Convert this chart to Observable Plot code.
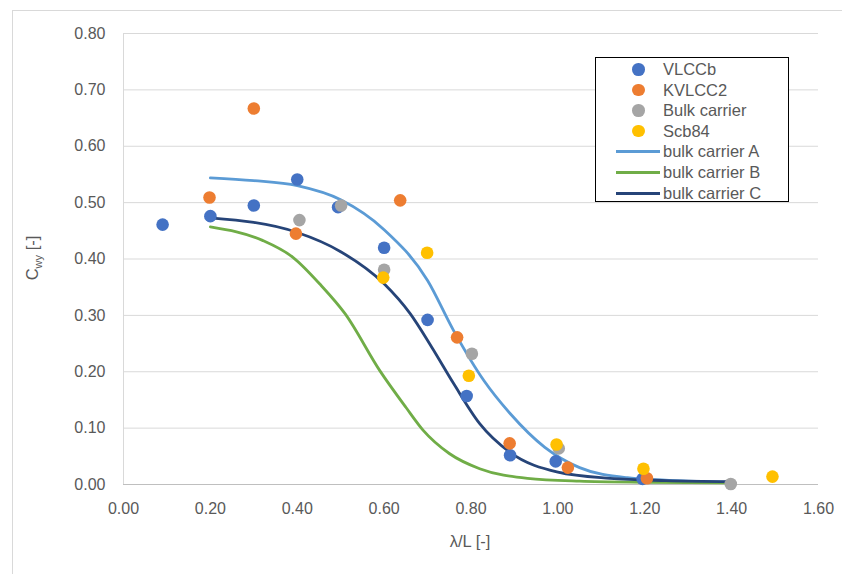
<!DOCTYPE html>
<html>
<head>
<meta charset="utf-8">
<script src="https://cdn.jsdelivr.net/npm/d3@7"></script>
<script src="https://cdn.jsdelivr.net/npm/@observablehq/plot@0.6"></script>
<style>
  html, body { margin: 0; padding: 0; background: #fff; overflow: hidden; }
  #wrap { position: relative; width: 842px; height: 574px; overflow: hidden; font-family: "Liberation Sans", Arial, sans-serif; }
  #frame { position: absolute; left: 12px; top: 10px; width: 900px; height: 700px; border: 1px solid #d9d9d9; box-sizing: border-box; pointer-events: none; }
  #legend { position: absolute; left: 595px; top: 57px; width: 194px; height: 145px; border: 1.5px solid #000; box-sizing: border-box; background: #fff; padding-top: 1px; }
  .row { position: relative; height: 20.6px; line-height: 20.6px; font-size: 16.5px; color: #595959; white-space: nowrap; }
  .row .dot { position: absolute; left: 36px; top: 4px; width: 12.6px; height: 12.6px; border-radius: 50%; }
  .row .ln { position: absolute; left: 20px; top: 9px; width: 44px; height: 3px; }
  .row .lab { position: absolute; left: 67px; top: 0; }
</style>
</head>
<body>
<div id="wrap"><div id="frame"></div></div>
<script>
// ---- data ----
const xTicks = [0, 0.2, 0.4, 0.6, 0.8, 1.0, 1.2, 1.4, 1.6];
const yTicks = [0, 0.1, 0.2, 0.3, 0.4, 0.5, 0.6, 0.7, 0.8];

const vlccbX = [0.09, 0.20, 0.30, 0.40, 0.494, 0.60, 0.70, 0.79, 0.89, 0.995, 1.195];
const vlccbY = [0.461, 0.476, 0.495, 0.541, 0.492, 0.420, 0.292, 0.157, 0.052, 0.041, 0.010];

const kvlccX = [0.198, 0.30, 0.397, 0.637, 0.768, 0.889, 1.023, 1.205];
const kvlccY = [0.509, 0.667, 0.445, 0.504, 0.261, 0.073, 0.030, 0.011];

const bulkX = [0.405, 0.501, 0.60, 0.802, 1.002, 1.398];
const bulkY = [0.469, 0.495, 0.381, 0.232, 0.064, 0.001];

const scbX = [0.598, 0.699, 0.795, 0.997, 1.197, 1.494];
const scbY = [0.367, 0.411, 0.193, 0.071, 0.028, 0.014];

const curveAX = [0.2, 0.3, 0.4, 0.5, 0.6, 0.7, 0.76, 0.83, 0.89, 0.97, 1.05, 1.16, 1.3, 1.4];
const curveAY = [0.544, 0.539, 0.530, 0.505, 0.452, 0.362, 0.273, 0.184, 0.126, 0.066, 0.030, 0.012, 0.006, 0.004];

const curveBX = [0.2, 0.32, 0.39, 0.455, 0.51, 0.59, 0.65, 0.69, 0.75, 0.82, 0.93, 1.05, 1.2, 1.4];
const curveBY = [0.457, 0.433, 0.403, 0.353, 0.303, 0.202, 0.137, 0.096, 0.055, 0.028, 0.011, 0.006, 0.004, 0.003];

const curveCX = [0.2, 0.4, 0.5, 0.6, 0.66, 0.71, 0.76, 0.82, 0.89, 1.0, 1.12, 1.25, 1.4];
const curveCY = [0.473, 0.447, 0.413, 0.356, 0.303, 0.243, 0.179, 0.108, 0.057, 0.022, 0.011, 0.007, 0.005];

const seriesNames = ["VLCCb", "KVLCC2", "Bulk carrier", "Scb84", "bulk carrier A", "bulk carrier B", "bulk carrier C"];
const seriesColors = ["#4472C4", "#ED7D31", "#A5A5A5", "#FFC000", "#5B9BD5", "#70AD47", "#264478"];

// ---- build tables ----
const zip = (xs, ys) => xs.map((x, i) => ({x, y: ys[i]}));
const pointSets = [zip(vlccbX, vlccbY), zip(kvlccX, kvlccY), zip(bulkX, bulkY), zip(scbX, scbY)];
const lineSets = [zip(curveAX, curveAY), zip(curveBX, curveBY), zip(curveCX, curveCY)];

const fmt = d3.format(".2f");
const marks = [
  Plot.ruleY(yTicks, {stroke: "#d9d9d9", strokeWidth: 1}),
  Plot.ruleX([0], {stroke: "#d9d9d9", strokeWidth: 1}),
  Plot.ruleY([0], {stroke: "#bfbfbf", strokeWidth: 1})
];
lineSets.forEach((d, i) => marks.push(Plot.line(d, {x: "x", y: "y", stroke: seriesColors[4 + i], strokeWidth: 2.8, curve: "monotone-x"})));
pointSets.forEach((d, i) => marks.push(Plot.dot(d, {x: "x", y: "y", r: 6.3, fill: seriesColors[i], stroke: "none"})));

const chart = Plot.plot({
  width: 842,
  height: 574,
  marginLeft: 123,
  marginRight: 24,
  marginTop: 33,
  marginBottom: 90,
  style: {fontFamily: "Liberation Sans, Arial, sans-serif", fontSize: "16px", color: "#595959", background: "transparent"},
  x: {domain: [0, 1.6], ticks: xTicks, tickFormat: fmt, tickSize: 0, tickPadding: 18, label: null},
  y: {domain: [0, 0.8], ticks: yTicks, tickFormat: fmt, tickSize: 0, tickPadding: 18, label: null},
  marks
});

const svg = d3.select(chart);
// axis titles
svg.append("text")
  .attr("x", 470).attr("y", 547)
  .attr("text-anchor", "middle")
  .attr("fill", "#595959")
  .style("font-size", "16.5px")
  .text("λ/L [-]");
const yt = svg.append("text")
  .attr("transform", "translate(38,258) rotate(-90)")
  .attr("text-anchor", "middle")
  .attr("fill", "#595959")
  .style("font-size", "16.5px");
yt.append("tspan").text("C");
yt.append("tspan").attr("dy", 4).style("font-size", "11px").text("wy");
yt.append("tspan").attr("dy", -4).text(" [-]");

chart.style.position = "absolute";
chart.style.left = "0px";
chart.style.top = "0px";
const wrap = document.getElementById("wrap");
wrap.appendChild(chart);

// legend
const legend = document.createElement("div");
legend.id = "legend";
seriesNames.forEach((name, i) => {
  const row = document.createElement("div");
  row.className = "row";
  const sym = document.createElement("span");
  sym.className = i < 4 ? "dot" : "ln";
  sym.style.background = seriesColors[i];
  const lab = document.createElement("span");
  lab.className = "lab";
  lab.textContent = name;
  row.appendChild(sym);
  row.appendChild(lab);
  legend.appendChild(row);
});
wrap.appendChild(legend);
</script>
</body>
</html>
